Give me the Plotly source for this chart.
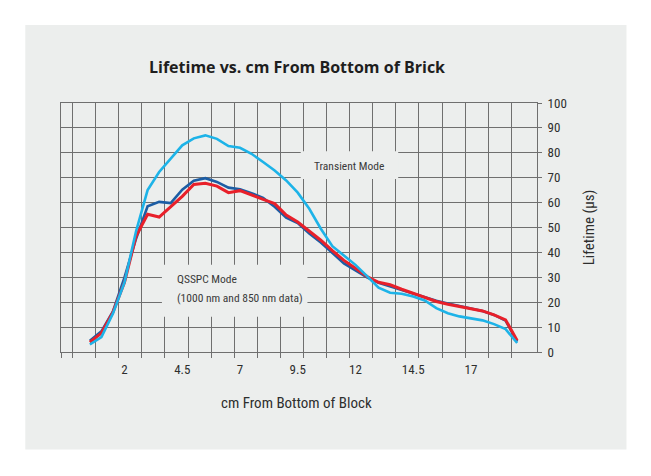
import plotly.graph_objects as go

# ---- data ----
cm_positions = [0.5, 1.0, 1.5, 2.0, 2.5, 3.0, 3.5, 4.0, 4.5, 5.0, 5.5, 6.0, 6.5, 7.0, 7.5,
                8.0, 8.5, 9.0, 9.5, 10.0, 10.5, 11.0, 11.5, 12.0, 12.5, 13.0, 13.5, 14.0,
                14.5, 15.0, 15.5, 16.0, 16.5, 17.0, 17.5, 18.0, 18.5, 19.0]
qsspc_1000 = [4.5, 8.3, 16.3, 30.0, 45.5, 58.5, 60.3, 59.8, 65.2, 68.8, 69.8, 68.3, 66.0, 65.4,
              63.8, 61.9, 58.3, 54.0, 51.8, 47.6, 44.0, 39.8, 35.6, 32.8, 30.0, 27.8, 26.3,
              25.0, 23.4, 22.1, 20.6, 19.5, 18.6, 17.7, 16.5, 14.9, 12.6, 4.2]
qsspc_850 = [3.9, 7.6, 16.0, 28.0, 46.5, 55.3, 54.2, 58.3, 62.5, 67.3, 67.8, 66.6, 64.0, 64.8,
             62.9, 61.3, 59.6, 55.0, 52.2, 48.6, 44.9, 40.7, 36.8, 33.6, 30.3, 28.0, 27.0,
             25.2, 23.6, 22.0, 20.3, 19.2, 18.3, 17.6, 16.5, 14.9, 12.9, 4.6]
transient = [3.0, 6.0, 15.5, 28.0, 48.5, 65.0, 72.3, 77.6, 83.0, 85.8, 87.0, 85.6, 82.7, 82.0,
             79.6, 76.3, 72.9, 68.9, 64.0, 57.5, 49.5, 42.5, 38.7, 35.0, 30.5, 25.8, 23.8,
             23.4, 22.3, 20.7, 17.6, 15.6, 14.3, 13.6, 12.7, 11.2, 9.2, 3.6]

x_grid_vals = [-0.75, -0.25, 0.75, 1.75, 2.75, 3.75, 4.75, 5.75, 6.75, 7.75, 8.75, 9.75,
               10.75, 11.75, 12.75, 13.75, 14.75, 15.75, 16.75, 17.75, 18.75]
x_label_vals = [2, 4.5, 7, 9.5, 12, 14.5, 17]
x_label_text = ["2", "4.5", "7", "9.5", "12", "14.5", "17"]
y_tick_vals = [0, 10, 20, 30, 40, 50, 60, 70, 80, 90, 100]

title_text = "Lifetime vs. cm From Bottom of Brick"
x_title = "cm From Bottom of Block"
y_title = "Lifetime (µs)"

NARROW = "Roboto Condensed, Liberation Sans Narrow, DejaVu Sans Condensed, sans-serif"
GRID = "#6f6f6f"
PANEL = "#eceeed"
TXT = "#2e2e2e"

fig = go.Figure()
fig.add_trace(go.Scatter(x=cm_positions, y=qsspc_1000, mode="lines",
                         line=dict(color="#1c5da4", width=2.6), showlegend=False))
fig.add_trace(go.Scatter(x=cm_positions, y=qsspc_850, mode="lines",
                         line=dict(color="#e8202a", width=3), showlegend=False))
fig.add_trace(go.Scatter(x=cm_positions, y=transient, mode="lines",
                         line=dict(color="#1db3e8", width=2.6), showlegend=False))
# invisible trace to carry the label axis
fig.add_trace(go.Scatter(x=[x_label_vals[0]], y=[0], xaxis="x2", mode="markers",
                         marker=dict(opacity=0), hoverinfo="skip", showlegend=False))

# page has an 8px body margin, so the figure is sized and offset accordingly
fig.update_layout(
    width=643, height=468,
    margin=dict(l=53, r=114, t=95, b=124),
    paper_bgcolor="white",
    plot_bgcolor=PANEL,
    xaxis=dict(range=[-0.75, 19.86], tickvals=x_grid_vals, ticktext=[""] * len(x_grid_vals),
               showgrid=True, gridcolor=GRID, gridwidth=1,
               ticks="outside", ticklen=5, tickcolor=GRID, tickwidth=1,
               showline=True, linecolor=GRID, linewidth=1, mirror=True, zeroline=False),
    xaxis2=dict(range=[-0.75, 19.86], overlaying="x", side="bottom", anchor="y",
                tickvals=x_label_vals, ticktext=x_label_text, showgrid=False, ticks="",
                showline=False, zeroline=False, ticklabelstandoff=8,
                tickfont=dict(family=NARROW, size=13, color=TXT)),
    yaxis=dict(range=[0, 100], side="right", tickvals=y_tick_vals,
               showgrid=True, gridcolor=GRID, gridwidth=1,
               ticks="outside", ticklen=4, tickcolor=GRID, tickwidth=1,
               showline=True, linecolor=GRID, linewidth=1, mirror=True, zeroline=False,
               ticklabelstandoff=3,
               tickfont=dict(family=NARROW, size=13, color=TXT),
               title=dict(text=y_title, font=dict(family=NARROW, size=15, color=TXT), standoff=17)),
    shapes=[
        dict(type="rect", xref="paper", yref="paper", x0=-0.075, x1=1.188, y0=-0.392, y1=1.313,
             fillcolor=PANEL, line=dict(width=0), layer="below"),
        dict(type="rect", xref="x", yref="y", x0=9.63, x1=13.85, y0=69.5, y1=80.6,
             fillcolor=PANEL, line=dict(width=0), layer="above"),
        dict(type="rect", xref="x", yref="y", x0=3.62, x1=9.92, y0=14.2, y1=35.0,
             fillcolor=PANEL, line=dict(width=0), layer="above"),
    ],
    annotations=[
        dict(text="<b>" + title_text + "</b>", xref="paper", yref="paper", x=0.495, y=1.146,
             xanchor="center", yanchor="middle", showarrow=False,
             font=dict(family="Open Sans, sans-serif", size=16, color="#1e1e1e")),
        dict(text=x_title, xref="paper", yref="paper", x=0.495, y=-0.205,
             xanchor="center", yanchor="middle", showarrow=False,
             font=dict(family=NARROW, size=15, color=TXT)),
        dict(text="Transient Mode", xref="x", yref="y", x=11.74, y=74.8,
             xanchor="center", yanchor="middle", showarrow=False,
             font=dict(family=NARROW, size=11.5, color="#3a3a3a")),
        dict(text="QSSPC Mode", xref="x", yref="y", x=4.18, y=29.5,
             xanchor="left", yanchor="middle", showarrow=False,
             font=dict(family=NARROW, size=11.5, color="#3a3a3a")),
        dict(text="(1000 nm and 850 nm data)", xref="x", yref="y", x=4.18, y=21.5,
             xanchor="left", yanchor="middle", showarrow=False,
             font=dict(family=NARROW, size=11.5, color="#3a3a3a")),
    ],
)

fig.write_html("out.html")
